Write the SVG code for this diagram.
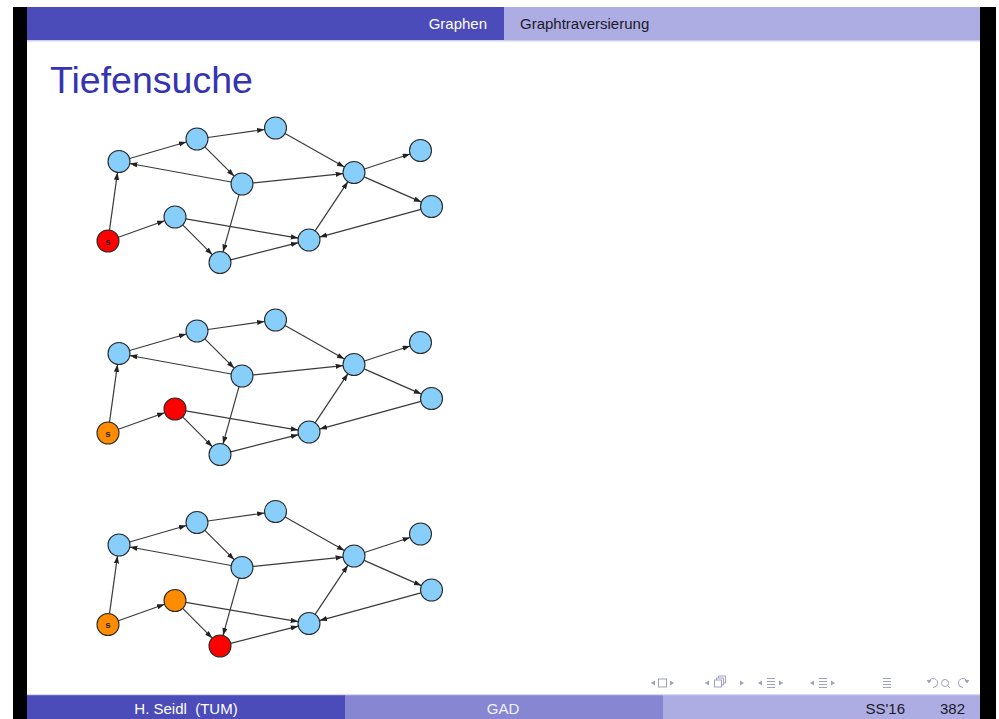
<svg xmlns="http://www.w3.org/2000/svg" xmlns:xlink="http://www.w3.org/1999/xlink" width="999" height="719" viewBox="0 0 999 719">
  <style>
    .hdr { font-family: "Liberation Sans", Arial, sans-serif; font-size: 15px; }
    .title { font-family: "Liberation Sans", Arial, sans-serif; font-size: 37.5px; fill: #3434B3; }
    .edge { stroke: #3a3a3a; stroke-width: 1.2; fill: none; marker-end: url(#arr); }
    .node { stroke: #2a2a2a; stroke-width: 1.1; }
    .blue { fill: #87CEFA; }
    .red { fill: #FF0000; }
    .orange { fill: #FF8C00; }
    .lbl { font-family: "Liberation Sans", Arial, sans-serif; font-size: 9.5px; font-weight: bold; fill: #222222; text-anchor: middle; }
    .nav { stroke: #A0A0C4; stroke-width: 1; fill: none; }
    .navf { fill: #A0A0C4; }
  </style>
  <defs>
    <marker id="arr" markerUnits="userSpaceOnUse" markerWidth="9" markerHeight="6" refX="7.5" refY="2.6" orient="auto">
      <path d="M0,0 L7.5,2.6 L0,5.2 Z" fill="#222222"/>
    </marker>
  </defs>

  <!-- page frame -->
  <rect x="0" y="0" width="999" height="719" fill="#FFFFFF"/>
  <rect x="13" y="7" width="14" height="712" fill="#000000"/>
  <rect x="980" y="7" width="16" height="712" fill="#000000"/>

  <!-- header bar -->
  <rect x="27" y="7" width="477" height="33" fill="#4B4BB9"/>
  <rect x="504" y="7" width="476" height="33" fill="#ADADE3"/>
  <rect x="27" y="40" width="953" height="1.5" fill="#CFCFF2"/>
  <text class="hdr" x="487" y="28.5" text-anchor="end" fill="#FFFFFF">Graphen</text>
  <text class="hdr" x="520" y="28.5" fill="#1A1A2A">Graphtraversierung</text>

  <!-- slide title -->
  <text class="title" x="50" y="93">Tiefensuche</text>

  <!-- step 1 -->
  <g id="graph1">
    <g id="g1-edges">
      <line class="edge" x1="109.5" y1="230.1" x2="117.5" y2="172.4"/>
      <line class="edge" x1="118.4" y1="237.3" x2="164.6" y2="220.7"/>
      <line class="edge" x1="129.6" y1="158.5" x2="186.4" y2="142.0"/>
      <line class="edge" x1="207.9" y1="137.5" x2="264.6" y2="129.5"/>
      <line class="edge" x1="204.8" y1="146.8" x2="234.2" y2="176.2"/>
      <line class="edge" x1="231.2" y1="182.0" x2="129.8" y2="163.5"/>
      <line class="edge" x1="252.9" y1="182.9" x2="343.1" y2="173.6"/>
      <line class="edge" x1="239.0" y1="194.6" x2="223.0" y2="251.9"/>
      <line class="edge" x1="285.1" y1="133.4" x2="344.4" y2="167.1"/>
      <line class="edge" x1="364.4" y1="169.0" x2="410.1" y2="154.0"/>
      <line class="edge" x1="364.1" y1="176.9" x2="421.4" y2="202.1"/>
      <line class="edge" x1="420.9" y1="209.4" x2="319.6" y2="237.1"/>
      <line class="edge" x1="315.1" y1="230.8" x2="347.9" y2="181.7"/>
      <line class="edge" x1="185.8" y1="218.9" x2="298.2" y2="238.1"/>
      <line class="edge" x1="182.7" y1="224.8" x2="212.3" y2="254.7"/>
      <line class="edge" x1="230.7" y1="259.8" x2="298.3" y2="242.7"/>
    </g>
    <g id="g1-s"><circle class="node red" cx="108" cy="241" r="11"/><text class="lbl" x="108" y="244.5">s</text></g>
    <g id="g1-a"><circle class="node blue" cx="119" cy="161.5" r="11"/></g>
    <g id="g1-b"><circle class="node blue" cx="197" cy="139" r="11"/></g>
    <g id="g1-c"><circle class="node blue" cx="275.5" cy="128" r="11"/></g>
    <g id="g1-d"><circle class="node blue" cx="242" cy="184" r="11"/></g>
    <g id="g1-e"><circle class="node blue" cx="354" cy="172.5" r="11"/></g>
    <g id="g1-f"><circle class="node blue" cx="420.5" cy="150.5" r="11"/></g>
    <g id="g1-g"><circle class="node blue" cx="431.5" cy="206.5" r="11"/></g>
    <g id="g1-h"><circle class="node blue" cx="309" cy="240" r="11"/></g>
    <g id="g1-i"><circle class="node blue" cx="220" cy="262.5" r="11"/></g>
    <g id="g1-j"><circle class="node blue" cx="175" cy="217" r="11"/></g>
  </g>

  <!-- step 2 -->
  <g id="graph2" transform="translate(0,192)">
    <g id="g2-edges">
      <line class="edge" x1="109.5" y1="230.1" x2="117.5" y2="172.4"/>
      <line class="edge" x1="118.4" y1="237.3" x2="164.6" y2="220.7"/>
      <line class="edge" x1="129.6" y1="158.5" x2="186.4" y2="142.0"/>
      <line class="edge" x1="207.9" y1="137.5" x2="264.6" y2="129.5"/>
      <line class="edge" x1="204.8" y1="146.8" x2="234.2" y2="176.2"/>
      <line class="edge" x1="231.2" y1="182.0" x2="129.8" y2="163.5"/>
      <line class="edge" x1="252.9" y1="182.9" x2="343.1" y2="173.6"/>
      <line class="edge" x1="239.0" y1="194.6" x2="223.0" y2="251.9"/>
      <line class="edge" x1="285.1" y1="133.4" x2="344.4" y2="167.1"/>
      <line class="edge" x1="364.4" y1="169.0" x2="410.1" y2="154.0"/>
      <line class="edge" x1="364.1" y1="176.9" x2="421.4" y2="202.1"/>
      <line class="edge" x1="420.9" y1="209.4" x2="319.6" y2="237.1"/>
      <line class="edge" x1="315.1" y1="230.8" x2="347.9" y2="181.7"/>
      <line class="edge" x1="185.8" y1="218.9" x2="298.2" y2="238.1"/>
      <line class="edge" x1="182.7" y1="224.8" x2="212.3" y2="254.7"/>
      <line class="edge" x1="230.7" y1="259.8" x2="298.3" y2="242.7"/>
    </g>
    <g id="g2-s"><circle class="node orange" cx="108" cy="241" r="11"/><text class="lbl" x="108" y="244.5">s</text></g>
    <g id="g2-a"><circle class="node blue" cx="119" cy="161.5" r="11"/></g>
    <g id="g2-b"><circle class="node blue" cx="197" cy="139" r="11"/></g>
    <g id="g2-c"><circle class="node blue" cx="275.5" cy="128" r="11"/></g>
    <g id="g2-d"><circle class="node blue" cx="242" cy="184" r="11"/></g>
    <g id="g2-e"><circle class="node blue" cx="354" cy="172.5" r="11"/></g>
    <g id="g2-f"><circle class="node blue" cx="420.5" cy="150.5" r="11"/></g>
    <g id="g2-g"><circle class="node blue" cx="431.5" cy="206.5" r="11"/></g>
    <g id="g2-h"><circle class="node blue" cx="309" cy="240" r="11"/></g>
    <g id="g2-i"><circle class="node blue" cx="220" cy="262.5" r="11"/></g>
    <g id="g2-j"><circle class="node red" cx="175" cy="217" r="11"/></g>
  </g>

  <!-- step 3 -->
  <g id="graph3" transform="translate(0,383.5)">
    <g id="g3-edges">
      <line class="edge" x1="109.5" y1="230.1" x2="117.5" y2="172.4"/>
      <line class="edge" x1="118.4" y1="237.3" x2="164.6" y2="220.7"/>
      <line class="edge" x1="129.6" y1="158.5" x2="186.4" y2="142.0"/>
      <line class="edge" x1="207.9" y1="137.5" x2="264.6" y2="129.5"/>
      <line class="edge" x1="204.8" y1="146.8" x2="234.2" y2="176.2"/>
      <line class="edge" x1="231.2" y1="182.0" x2="129.8" y2="163.5"/>
      <line class="edge" x1="252.9" y1="182.9" x2="343.1" y2="173.6"/>
      <line class="edge" x1="239.0" y1="194.6" x2="223.0" y2="251.9"/>
      <line class="edge" x1="285.1" y1="133.4" x2="344.4" y2="167.1"/>
      <line class="edge" x1="364.4" y1="169.0" x2="410.1" y2="154.0"/>
      <line class="edge" x1="364.1" y1="176.9" x2="421.4" y2="202.1"/>
      <line class="edge" x1="420.9" y1="209.4" x2="319.6" y2="237.1"/>
      <line class="edge" x1="315.1" y1="230.8" x2="347.9" y2="181.7"/>
      <line class="edge" x1="185.8" y1="218.9" x2="298.2" y2="238.1"/>
      <line class="edge" x1="182.7" y1="224.8" x2="212.3" y2="254.7"/>
      <line class="edge" x1="230.7" y1="259.8" x2="298.3" y2="242.7"/>
    </g>
    <g id="g3-s"><circle class="node orange" cx="108" cy="241" r="11"/><text class="lbl" x="108" y="244.5">s</text></g>
    <g id="g3-a"><circle class="node blue" cx="119" cy="161.5" r="11"/></g>
    <g id="g3-b"><circle class="node blue" cx="197" cy="139" r="11"/></g>
    <g id="g3-c"><circle class="node blue" cx="275.5" cy="128" r="11"/></g>
    <g id="g3-d"><circle class="node blue" cx="242" cy="184" r="11"/></g>
    <g id="g3-e"><circle class="node blue" cx="354" cy="172.5" r="11"/></g>
    <g id="g3-f"><circle class="node blue" cx="420.5" cy="150.5" r="11"/></g>
    <g id="g3-g"><circle class="node blue" cx="431.5" cy="206.5" r="11"/></g>
    <g id="g3-h"><circle class="node blue" cx="309" cy="240" r="11"/></g>
    <g id="g3-i"><circle class="node red" cx="220" cy="262.5" r="11"/></g>
    <g id="g3-j"><circle class="node orange" cx="175" cy="217" r="11"/></g>
  </g>

  <!-- navigation symbols -->
  <g id="navigation">
    <path class="navf" d="M651,683 L655,680.5 L655,685.5 Z"/>
    <rect class="nav" x="658.5" y="679" width="8" height="8"/>
    <path class="navf" d="M674,683 L670,680.5 L670,685.5 Z"/>

    <path class="navf" d="M705,683 L709,680.5 L709,685.5 Z"/>
    <rect class="nav" x="714.5" y="680" width="7" height="7"/>
    <path class="nav" d="M716.5,680 L716.5,678 L723.5,678 L723.5,685 L721.5,685"/>
    <path class="nav" d="M718.5,678 L718.5,676 L725.5,676 L725.5,683 L723.5,683"/>
    <path class="navf" d="M744,683 L740,680.5 L740,685.5 Z"/>

    <path class="navf" d="M758,683 L762,680.5 L762,685.5 Z"/>
    <path class="nav" d="M767,678.5 H775 M767,681.5 H775 M767,684.5 H775 M767,687.5 H775"/>
    <path class="navf" d="M783,683 L779,680.5 L779,685.5 Z"/>

    <path class="navf" d="M810,683 L814,680.5 L814,685.5 Z"/>
    <path class="nav" d="M819,678.5 H827 M819,681.5 H827 M819,684.5 H827 M819,687.5 H827"/>
    <path class="navf" d="M835,683 L831,680.5 L831,685.5 Z"/>

    <path class="nav" d="M883,678.5 H891 M883,681.5 H891 M883,684.5 H891 M883,687.5 H891"/>

    <path class="nav" d="M929,681 A4.5,4.5 0 1 1 933,687.5"/>
    <path class="navf" d="M926.5,680 L931.5,680 L929,683.5 Z"/>
    <circle class="nav" cx="945" cy="683" r="3.5"/>
    <path class="nav" d="M947.5,685.5 L950,688"/>
    <path class="nav" d="M967,681 A4.5,4.5 0 1 0 963,687.5"/>
    <path class="navf" d="M969.5,680 L964.5,680 L967,683.5 Z"/>
  </g>

  <!-- footer bar -->
  <rect x="27" y="695" width="318" height="24" fill="#4B4BB9"/>
  <rect x="345" y="695" width="318" height="24" fill="#8686D3"/>
  <rect x="663" y="695" width="317" height="24" fill="#ADADE3"/>
  <rect x="27" y="694" width="953" height="1.2" fill="#D8D8F4"/>
  <text class="hdr" x="186" y="714" text-anchor="middle" fill="#FFFFFF" xml:space="preserve">H. Seidl  (TUM)</text>
  <text class="hdr" x="503" y="714" text-anchor="middle" fill="#F2F2FF">GAD</text>
  <text class="hdr" x="905" y="714" text-anchor="end" fill="#1A1A2A">SS'16</text>
  <text class="hdr" x="965" y="714" text-anchor="end" fill="#1A1A2A">382</text>
</svg>
